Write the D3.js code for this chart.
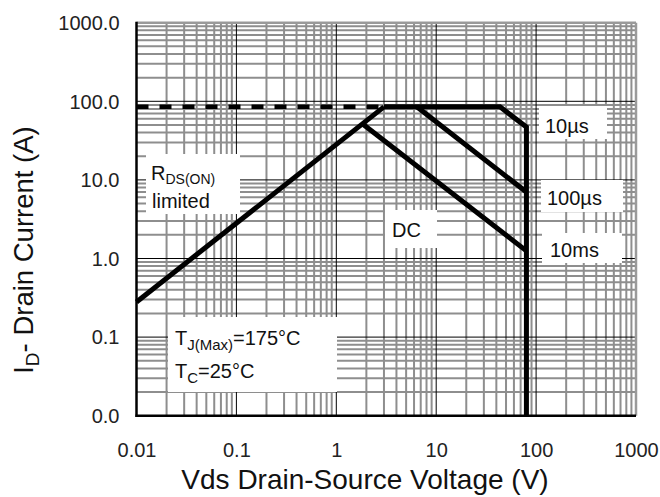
<!DOCTYPE html>
<html>
<head>
<meta charset="utf-8">
<script src="https://cdn.jsdelivr.net/npm/d3@7"></script>
<style>
  html, body { margin: 0; padding: 0; background: #fff; }
  svg { display: block; font-family: Arial, "Liberation Sans", sans-serif; }
</style>
</head>
<body>
<svg id="chart" width="660" height="497"></svg>
<script>
// ---- data ----
const xTickValues = [0.01, 0.1, 1, 10, 100, 1000];
const xTickLabels = ["0.01", "0.1", "1", "10", "100", "1000"];
const yTickValues = [0.01, 0.1, 1, 10, 100, 1000];
const yTickLabels = ["0.0", "0.1", "1.0", "10.0", "100.0", "1000.0"];

// current limit (dashed)
const limitV = [0.01, 3.0];
const limitI = [85, 85];
// RDS(ON) limited line
const rdsV = [0.01, 3.0];
const rdsI = [0.28, 85];
// 10us envelope
const us10V = [3.0, 43.5, 80, 80];
const us10I = [85, 85, 47, 0.01];
// 100us
const us100V = [6.4, 80];
const us100I = [85, 7.0];
// DC
const dcV = [1.85, 80];
const dcI = [51, 1.25];

// ---- layout ----
const svg = d3.select("#chart");
const L = 136.5, R = 636, T = 22.7, B = 415.7;
const x = d3.scaleLog().domain([0.01, 1000]).range([L, R]);
const y = d3.scaleLog().domain([0.01, 1000]).range([B, T]);

svg.append("rect").attr("width", 660).attr("height", 497).attr("fill", "#fff");

// minor grid
const minor = [];
for (let e = -2; e < 3; e++) for (let k = 2; k <= 9; k++) minor.push(k * Math.pow(10, e));
const grid = svg.append("g");
grid.selectAll("line.vx").data(minor).join("line")
  .attr("x1", d => x(d)).attr("x2", d => x(d)).attr("y1", T).attr("y2", B)
  .attr("stroke", "#8e8e8e").attr("stroke-width", 2);
grid.selectAll("line.hy").data(minor).join("line")
  .attr("class", "hy")
  .attr("y1", d => y(d)).attr("y2", d => y(d)).attr("x1", L).attr("x2", R)
  .attr("stroke", "#8e8e8e").attr("stroke-width", 2);
// major grid
const majors = [0.1, 1, 10, 100];
grid.selectAll("line.mx").data(majors).join("line").attr("class", "mx")
  .attr("x1", d => x(d)).attr("x2", d => x(d)).attr("y1", T).attr("y2", B)
  .attr("stroke", "#000").attr("stroke-width", 1);
grid.selectAll("line.my").data(majors).join("line").attr("class", "my")
  .attr("y1", d => y(d)).attr("y2", d => y(d)).attr("x1", L).attr("x2", R)
  .attr("stroke", "#000").attr("stroke-width", 1);

// border top/right
svg.append("line").attr("x1", L).attr("x2", R).attr("y1", T).attr("y2", T)
  .attr("stroke", "#9a9a9a").attr("stroke-width", 2.5);
svg.append("line").attr("x1", R).attr("x2", R).attr("y1", T).attr("y2", B)
  .attr("stroke", "#9a9a9a").attr("stroke-width", 2.5);

// label boxes
const boxes = [
  [146, 154, 94, 60],
  [539, 106, 68, 33],
  [541, 180, 82, 32],
  [542, 233, 80, 30],
  [385, 210, 52, 38],
  [168, 317, 169, 75]
];
svg.selectAll("rect.box").data(boxes).join("rect").attr("class", "box")
  .attr("x", d => d[0]).attr("y", d => d[1]).attr("width", d => d[2]).attr("height", d => d[3])
  .attr("fill", "#fff");

// axes
const xAxis = svg.append("g").attr("transform", `translate(0,${B})`)
  .call(d3.axisBottom(x).tickValues(xTickValues).tickFormat((d, i) => xTickLabels[i]).tickSize(0));
xAxis.select(".domain").remove();
xAxis.selectAll("text").attr("y", 41).attr("dy", 0).attr("font-size", 20)
  .attr("font-family", "Arial, 'Liberation Sans', sans-serif").attr("fill", "#222");

const yAxis = svg.append("g").attr("transform", `translate(${L},0)`)
  .call(d3.axisLeft(y).tickValues(yTickValues).tickFormat((d, i) => yTickLabels[i]).tickSize(0).tickPadding(17));
yAxis.select(".domain").remove();
yAxis.selectAll("text").attr("font-size", 20).attr("dy", "0.34em")
  .attr("font-family", "Arial, 'Liberation Sans', sans-serif").attr("fill", "#222");

svg.append("line").attr("x1", L).attr("x2", L).attr("y1", T - 1).attr("y2", B + 1.2)
  .attr("stroke", "#000").attr("stroke-width", 2.5);
svg.append("line").attr("x1", L - 1).attr("x2", R).attr("y1", B).attr("y2", B)
  .attr("stroke", "#000").attr("stroke-width", 2.5);

// curves
const line = d3.line().x(d => x(d[0])).y(d => y(d[1]));
const zipIt = (a, b) => a.map((v, i) => [v, b[i]]);
svg.append("path").attr("d", line(zipIt(limitV, limitI))).attr("fill", "none")
  .attr("stroke", "#000").attr("stroke-width", 4.5).attr("stroke-dasharray", "12,11");
[[rdsV, rdsI], [us10V, us10I], [us100V, us100I], [dcV, dcI]].forEach(([v, c]) => {
  svg.append("path").attr("d", line(zipIt(v, c))).attr("fill", "none")
    .attr("stroke", "#000").attr("stroke-width", 5).attr("stroke-linejoin", "miter");
});

// annotation texts
const txt = (xx, yy, s) => svg.append("text").attr("x", xx).attr("y", yy)
  .attr("font-size", 20).attr("fill", "#111").text(s);
const r = svg.append("text").attr("x", 151).attr("y", 180).attr("font-size", 20).attr("fill", "#111");
r.append("tspan").text("R");
r.append("tspan").attr("font-size", 14).attr("dy", 4).text("DS(ON)");
txt(152, 208, "limited");
txt(545, 133, "10µs");
txt(547, 205, "100µs");
txt(550, 257, "10ms");
txt(392, 237, "DC");
const tj = svg.append("text").attr("x", 175).attr("y", 345).attr("font-size", 20).attr("fill", "#111");
tj.append("tspan").text("T");
tj.append("tspan").attr("font-size", 15).attr("dy", 5).text("J(Max)");
tj.append("tspan").attr("dy", -5).text("=175°C");
const tc = svg.append("text").attr("x", 175).attr("y", 378).attr("font-size", 20).attr("fill", "#111");
tc.append("tspan").text("T");
tc.append("tspan").attr("font-size", 15).attr("dy", 5).text("C");
tc.append("tspan").attr("dy", -5).text("=25°C");

// axis titles
svg.append("text").attr("x", 365).attr("y", 489).attr("text-anchor", "middle")
  .attr("font-size", 28).attr("fill", "#111").text("Vds Drain-Source Voltage (V)");
const yt = svg.append("text").attr("transform", "translate(33,250) rotate(-90)")
  .attr("text-anchor", "middle").attr("font-size", 27.5).attr("fill", "#111");
yt.append("tspan").text("I");
yt.append("tspan").attr("font-size", 19).attr("dy", 6).text("D");
yt.append("tspan").attr("dy", -6).text("- Drain Current (A)");
</script>
</body>
</html>
